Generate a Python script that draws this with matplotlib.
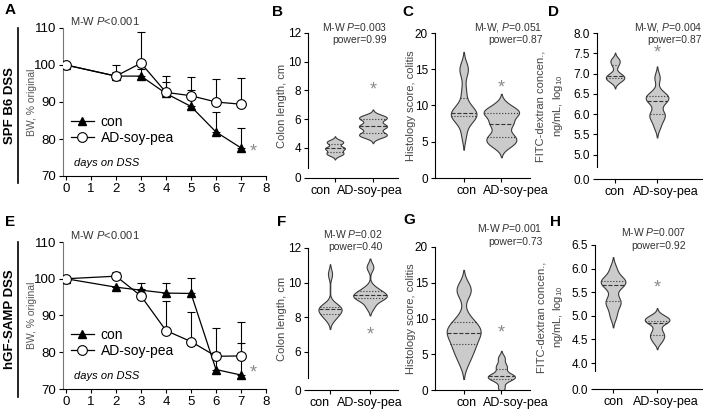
import numpy as np
import matplotlib.pyplot as plt
import matplotlib.transforms as mtransforms
from matplotlib import mlab

plt.rcParams['font.family'] = ['Liberation Sans', 'DejaVu Sans']
plt.rcParams['mathtext.fontset'] = 'custom'
plt.rcParams['mathtext.rm'] = 'Liberation Sans'
plt.rcParams['mathtext.it'] = 'Liberation Sans:italic'
plt.rcParams['axes.linewidth'] = 0.8

# ---- body weight over days (A, E) ----
days = [0, 2, 3, 4, 5, 6, 7]
groups = ["con", "AD-soy-pea"]

a_con = [100, 97, 97, 92.3, 88.8, 81.9, 77.6]
a_con_err = [0, 1.2, 2, 3, 4.5, 5.4, 5.4]
a_ad = [100, 97, 100.5, 92.6, 91.7, 90, 89.4]
a_ad_err = [0, 3, 8.5, 4.3, 5, 6.2, 7]

e_con = [100, 97.7, 96.9, 96.1, 96, 75.3, 73.8]
e_con_err = [0, 0, 2, 2.8, 4.2, 4.8, 8.7]
e_ad = [100, 100.7, 95.3, 85.9, 82.9, 78.9, 79]
e_ad_err = [0, 1.2, 2, 8, 8, 7.7, 9.2]

# ---- per-mouse values ----
b_con = [3.5, 3.6, 3.7, 3.9, 4.0, 4.0, 4.3, 4.4, 4.5]
b_ad = [4.8, 4.9, 5.0, 5.4, 5.5, 5.6, 6.0, 6.1, 6.2]
c_con = [6, 8, 8.5, 8.5, 9, 9, 9, 10, 12, 15, 15]
c_ad = [4.5, 5, 5.5, 6, 7.5, 7.5, 9, 9, 9, 10]
d_con = [6.8, 6.85, 6.9, 6.9, 6.95, 7.0, 7.2, 7.3, 7.35]
d_ad = [5.7, 5.9, 6.0, 6.0, 6.3, 6.35, 6.4, 6.45, 6.5, 6.9]
f_con = [7.9, 8.1, 8.2, 8.4, 8.5, 8.5, 8.6, 8.7, 10.5]
f_ad = [8.6, 9.0, 9.1, 9.2, 9.3, 9.3, 9.5, 9.7, 10.9]
g_con = [4, 5.5, 6, 7, 8, 8, 8.5, 9, 10, 14, 14]
g_ad = [0.3, 1.5, 1.5, 2, 2, 2, 3, 3.5, 4.5]
h_con = [5.0, 5.2, 5.3, 5.35, 5.6, 5.7, 5.7, 5.75, 5.8, 6.0]
h_ad = [4.45, 4.55, 4.6, 4.7, 4.85, 4.9, 4.9, 4.95, 5.0]

stats = {
    "B": ("M-W $P$=0.003", "power=0.99"),
    "C": ("M-W, $P$=0.051", "power=0.87"),
    "D": ("M-W, $P$=0.004", "power=0.87"),
    "F": ("M-W $P$=0.02", "power=0.40"),
    "G": ("M-W $P$=0.001", "power=0.73"),
    "H": ("M-W $P$=0.007", "power=0.92"),
}

W, H = 703, 411
fig = plt.figure(figsize=(W / 100, H / 100), dpi=100)


def add_ax(l, t, r, b):
    ax = fig.add_axes([l / W, 1 - b / H, (r - l) / W, (b - t) / H])
    ax.spines['top'].set_visible(False)
    ax.spines['right'].set_visible(False)
    ax.tick_params(length=3, width=0.8, labelsize=8.5, pad=2)
    return ax


def weight_panel(rect, con, con_err, ad, ad_err, label_y, star_y):
    ax = add_ax(*rect)
    ax.errorbar(days, con, yerr=[np.zeros(len(con)), con_err], fmt='none',
                ecolor='black', elinewidth=0.8, capsize=3, capthick=0.8)
    ax.errorbar(days, ad, yerr=[np.zeros(len(ad)), ad_err], fmt='none',
                ecolor='black', elinewidth=0.8, capsize=3, capthick=0.8)
    ax.plot(days, con, '-^', color='black', lw=0.9, ms=6, label=groups[0], zorder=3)
    ax.plot(days, ad, '-o', color='black', mfc='white', mew=0.8, lw=0.9, ms=7,
            label=groups[1], zorder=3)
    ax.set_xlim(-0.12, 8)
    ax.set_ylim(70, 110)
    ax.set_xticks(range(0, 9))
    ax.set_yticks([70, 80, 90, 100, 110])
    ax.tick_params(labelsize=9.5)
    ax.spines['left'].set_color('#777777')
    ax.set_ylabel("BW, % original", fontsize=7.5, color='#555555')
    ax.yaxis.set_label_coords(-0.128, 0.5)
    ax.legend(loc='upper left', bbox_to_anchor=(0.0, label_y), frameon=False,
              fontsize=10, handlelength=1.6, handletextpad=0.5, labelspacing=0.15,
              borderaxespad=0.2)
    ax.text(0.054, 0.054, "days on DSS", transform=ax.transAxes, fontsize=8,
            style='italic', va='bottom')
    ax.text(0.035, 1.01, "M-W $P$<0.001", transform=ax.transAxes, fontsize=8,
            color='#333333', va='bottom')
    ax.text(7.5, star_y, "*", fontsize=13, color='#8c8c8c', ha='center', va='center')
    return ax


def violin(ax, data, pos, half):
    data = np.asarray(data, float)
    kde = mlab.GaussianKDE(data, 0.36)
    bw = float(np.sqrt(np.asarray(kde.covariance)).ravel()[0])
    ys = np.linspace(data.min() - 3 * bw, data.max() + 3 * bw, 400)
    dens = kde.evaluate(ys)
    keep = dens > dens.max() * 0.02
    ys, dens = ys[keep], dens[keep]
    w = dens / dens.max() * half
    ax.fill_betweenx(ys, pos - w, pos + w, facecolor='#cbcbcb',
                     edgecolor='#3a3a3a', lw=0.8)
    for q, ls in zip(np.percentile(data, [25, 50, 75]), [':', '--', ':']):
        hw = np.interp(q, ys, w)
        ax.plot([pos - hw, pos + hw], [q, q], color='#333333', lw=0.8, ls=ls)


def violin_panel(rect, con, ad, halves, xlim, ylim, ticks, ticklabels, spine_lo,
                 ylabel, label_x, star_y, key, stat_x, stat_y, label_shift):
    ax = add_ax(*rect)
    violin(ax, con, 0, halves[0])
    violin(ax, ad, 1, halves[1])
    ax.set_xlim(*xlim)
    ax.set_ylim(*ylim)
    ax.set_xticks([0, 1])
    ax.set_xticklabels(groups, fontsize=9)
    for lab, dx in zip(ax.get_xticklabels(), label_shift):
        lab.set_transform(lab.get_transform() +
                          mtransforms.ScaledTranslation(dx / 100, 0, fig.dpi_scale_trans))
    ax.set_yticks(ticks)
    ax.set_yticklabels(ticklabels)
    ax.spines['left'].set_bounds(spine_lo, ylim[1])
    ax.set_ylabel(ylabel, fontsize=8, color='#444444', linespacing=1.5)
    ax.yaxis.set_label_coords(label_x, 0.5)
    ax.text(1, star_y, "*", fontsize=13, color='#8c8c8c', ha='center', va='center')
    ax.text(stat_x, stat_y[0], stats[key][0], transform=ax.transAxes, fontsize=7.5,
            color='#333333', ha='right', va='center')
    ax.text(stat_x, stat_y[1], stats[key][1], transform=ax.transAxes, fontsize=7.5,
            color='#333333', ha='right', va='center')
    return ax


fitc = "FITC-dextran concen.,\nng/mL, log$_{10}$"

weight_panel((63, 28, 266, 176), a_con, a_con_err, a_ad, a_ad_err, 0.47, 76.5)
weight_panel((63, 242, 266, 389), e_con, e_con_err, e_ad, e_ad_err, 0.47, 74.3)

violin_panel((308, 33, 398, 178), b_con, b_ad, (0.26, 0.37), (-0.71, 1.66),
             (1.9, 12), [1.9, 4, 6, 8, 10, 12], ['0', '4', '6', '8', '10', '12'], 2.6,
             "Colon length, cm", -0.233, 8, "B", 0.88, (1.04, 0.95), (-14, -3))
violin_panel((435, 33, 530, 178), c_con, c_ad, (0.34, 0.47), (-0.76, 1.76),
             (0, 20), [0, 5, 10, 15, 20], ['0', '5', '10', '15', '20'], 0,
             "Histology score, colitis", -0.20, 12.4, "C", 1.13, (1.04, 0.95), (3, 14))
violin_panel((597, 33, 702, 179), d_con, d_ad, (0.22, 0.27), (-0.43, 2.07),
             (4.4, 8.0), [4.4, 5.0, 5.5, 6.0, 6.5, 7.0, 7.5, 8.0],
             ['0.0', '5.0', '5.5', '6.0', '6.5', '7.0', '7.5', '8.0'], 4.7,
             fitc, -0.305, 7.5, "D", 1.0, (1.04, 0.95), (0, 9))
violin_panel((308, 248, 398, 390), f_con, f_ad, (0.29, 0.42), (-0.55, 1.7),
             (3.8, 12), [3.8, 6, 8, 10, 12], ['0', '6', '8', '10', '12'], 4.5,
             "Colon length, cm", -0.233, 7, "F", 0.83, (1.10, 1.005), (-10, 0))
violin_panel((435, 247, 530, 390), g_con, g_ad, (0.45, 0.36), (-0.76, 1.76),
             (0, 20), [0, 5, 10, 15, 20], ['0', '5', '10', '15', '20'], 0,
             "Histology score, colitis", -0.20, 8, "G", 1.13, (1.13, 1.035), (3, 14))
violin_panel((595, 245, 702, 389), h_con, h_ad, (0.28, 0.28), (-0.41, 2.02),
             (3.45, 6.5), [3.45, 4.0, 4.5, 5.0, 5.5, 6.0, 6.5],
             ['0.0', '4.0', '4.5', '5.0', '5.5', '6.0', '6.5'], 3.83,
             fitc, -0.28, 5.6, "H", 0.85, (1.09, 0.99), (1, 9))

# panel letters
for letter, x, y in [("A", 5, 10), ("B", 272, 12), ("C", 402, 12), ("D", 548, 12),
                     ("E", 5, 222), ("F", 277, 222), ("G", 403, 220), ("H", 550, 222)]:
    fig.text(x / W, 1 - y / H, letter, fontsize=11, fontweight='bold', va='center')

# row labels with vertical rules
for text, y0, y1 in [("SPF B6 DSS", 28, 183), ("hGF-SAMP DSS", 242, 397)]:
    fig.text(10 / W, 1 - (y0 + y1) / 2 / H, text, rotation=90, fontsize=9.5,
             fontweight='bold', ha='center', va='center')
    fig.add_artist(plt.Line2D([18 / W, 18 / W], [1 - y0 / H, 1 - y1 / H],
                              color='black', lw=1.2))

fig.savefig("out.png", dpi=100)
